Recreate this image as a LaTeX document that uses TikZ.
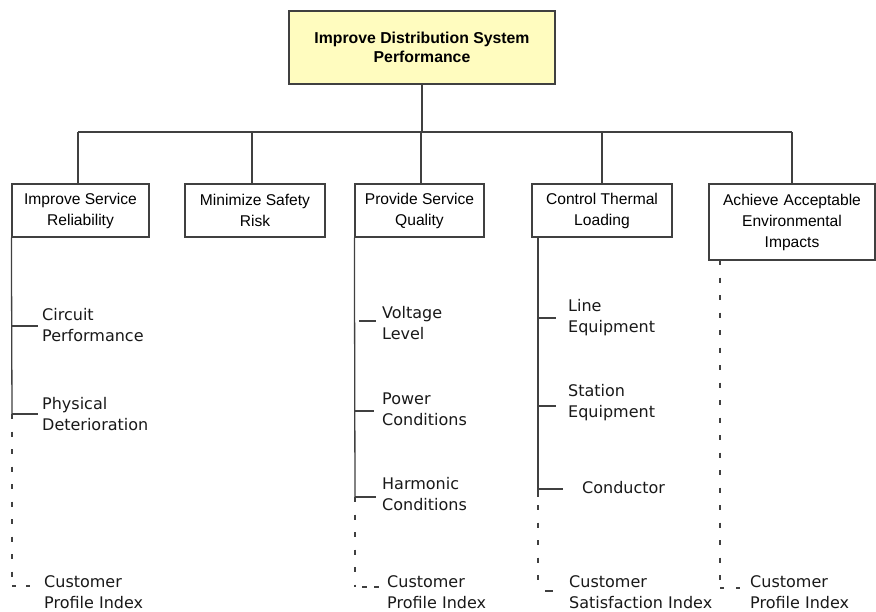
\documentclass[tikz,border=0pt]{standalone}
\usepackage{fontspec}
\setmainfont{Liberation Sans}
\newfontfamily\labfont{DejaVu Sans}
\begin{document}
\begin{tikzpicture}[x=1pt,y=-1pt,
  lineclr/.style={draw=black!75},
  goalbox/.style={lineclr, line width=1.3pt, fill=yellow!25!white, inner sep=0pt, align=center,
     font=\bfseries\fontsize{15.8}{19}\selectfont},
  objbox/.style={lineclr, line width=1.2pt, inner sep=0pt, align=center,
     font=\fontsize{15.6}{21}\selectfont},
  lab/.style={inner sep=0pt, align=left, anchor=west, text=black!90, font=\labfont\fontsize{16}{21}\selectfont},
  conn/.style={lineclr, line width=1.3pt},
  dconn/.style={lineclr, line width=1.5pt, dash pattern=on 5pt off 12.5pt}]
\useasboundingbox (0,0) rectangle (876,611);
\fill[white] (0,0) rectangle (876,611);

% goal
\node[goalbox, minimum width=266pt, minimum height=73pt] (goal) at (422,47.5) {Improve Distribution System\\Performance};

% objectives
\node[objbox, minimum width=137pt, minimum height=53pt] (imp) at (80.5,210.5) {Improve Service\\Reliability};
\node[objbox, minimum width=140pt, minimum height=53pt] (min) at (255,210.5) {Minimize Safety\\Risk};
\node[objbox, minimum width=129pt, minimum height=53pt] (pro) at (419.5,210.5) {Provide Service\\Quality};
\node[objbox, minimum width=140pt, minimum height=53pt] (con) at (602,210.5) {Control Thermal\\Loading};
\node[objbox, minimum width=166pt, minimum height=76pt, text width=166pt] (ach) at (792,222) {Achieve Acceptable\\Environmental\\Impacts};

% tree connectors
\coordinate (bus) at (422,132);
\draw[conn] (goal.south) -- (bus);
\draw[conn] (78,132) -- (792,132);
\draw[conn] (78,132) -- (imp.north -| 78,0);
\draw[conn] (252,132) -- (min.north -| 252,0);
\draw[conn] (421,132) -- (pro.north -| 421,0);
\draw[conn] (602,132) -- (con.north);
\draw[conn] (792,132) -- (ach.north -| 792,0);

% labels
\node[lab] (cp)  at (42,325.5) {Circuit\\Performance};
\node[lab] (pd)  at (42,414.5) {Physical\\Deterioration};
\node[lab] (cpi1) at (44,592) {Customer\\Profile Index};

\node[lab] (vl)  at (382,323.5) {Voltage\\Level};
\node[lab] (pc)  at (382,409) {Power\\Conditions};
\node[lab] (hc)  at (382,494) {Harmonic\\Conditions};
\node[lab] (cpi2) at (387,592) {Customer\\Profile Index};

\node[lab] (le)  at (568,317.5) {Line\\Equipment};
\node[lab] (se)  at (568,403) {Station\\Equipment};
\node[lab] (cd)  at (582,488) {Conductor};
\node[lab] (csi) at (569,592) {Customer\\Satisfaction Index};

\node[lab] (cpi3) at (750,592) {Customer\\Profile Index};

% trunk coordinates
\coordinate (t1) at (imp.south west);
\coordinate (t1e) at (12,414);
\coordinate (b1) at (12,586);
\coordinate (t2) at (pro.south west);
\coordinate (t2e) at (355,497);
\coordinate (b2) at (355,587);
\coordinate (t3) at (538,237);
\coordinate (t3e) at (538,497);
\coordinate (b3) at (538,591);
\coordinate (t4) at (720,260);
\coordinate (b4) at (720,588);

% Improve Service Reliability
\draw[conn] (t1) -- (t1e);
\draw[conn] (12,326) -- (38,326);
\draw[conn] (t1e) -- (38,414);
\draw[dconn] (t1e) -- (b1);
\draw[dconn, dash pattern=on 4pt off 10pt, dash phase=-14pt, shorten >=12pt] (b1) -- (cpi1.west |- b1);

% Provide Service Quality
\draw[conn] (t2) -- (t2e);
\draw[conn] (359,321) -- (376,321);
\draw[conn] (355,411) -- (374,411);
\draw[conn] (t2e) -- (376,497);
\draw[dconn] (t2e) -- (b2);
\draw[dconn, dash pattern=on 5pt off 7pt, dash phase=-7pt, shorten >=2pt] (b2) -- (cpi2.west |- b2);

% Control Thermal Loading
\draw[conn] (t3) -- (t3e);
\draw[conn] (538,318) -- (556,318);
\draw[conn] (538,406) -- (556,406);
\draw[conn] (538,489) -- (563,489);
\draw[dconn, dash phase=-8pt] (t3e) -- (b3);
\draw[dconn, dash pattern=on 8pt off 7pt, dash phase=-7pt, shorten >=16pt] (b3) -- (csi.west |- b3);

% Achieve Acceptable Environmental Impacts
\draw[dconn] (t4) -- (b4);
\draw[dconn, dash pattern=on 4pt off 12pt, dash phase=-16pt, shorten >=10pt] (b4) -- (cpi3.west |- b4);
\end{tikzpicture}
\end{document}
